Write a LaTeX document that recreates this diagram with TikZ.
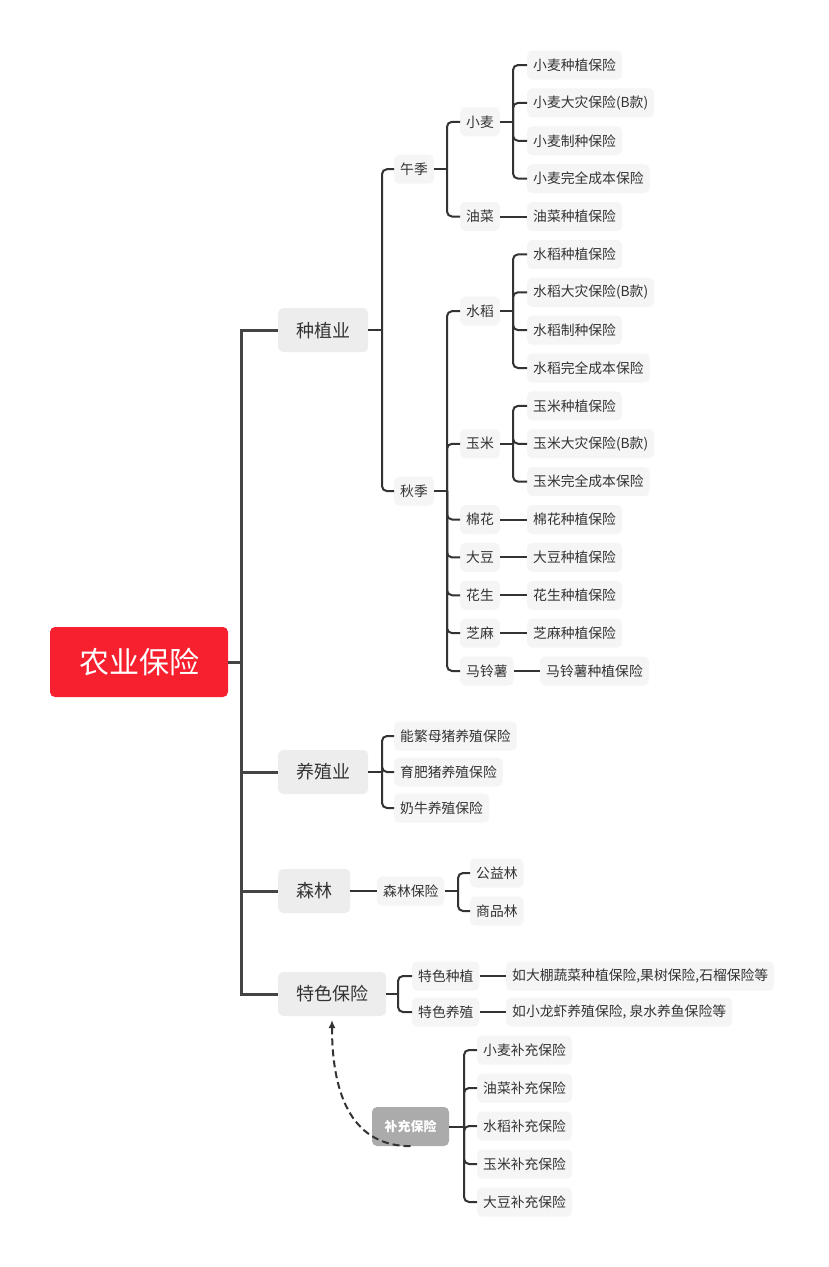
\documentclass[tikz,border=0pt]{standalone}
\usepackage{fontspec}
\setmainfont{Noto Sans CJK SC}
\usetikzlibrary{arrows.meta}
\definecolor{txt}{HTML}{333333}
\definecolor{leaffill}{HTML}{F5F5F5}
\definecolor{lonefill}{HTML}{EDEDED}
\definecolor{rootred}{HTML}{F7202F}
\definecolor{conncol}{HTML}{333333}
\definecolor{trunkcol}{HTML}{444444}
\definecolor{suppfill}{HTML}{ABABAB}
\tikzset{
  rootbox/.style={fill=rootred, text=white, rounded corners=5pt, minimum width=178pt, minimum height=70pt, inner sep=0pt, font=\fontsize{30}{33}\selectfont},
  lonebox/.style={fill=lonefill, text=txt, rounded corners=5pt, minimum height=44pt, inner xsep=18pt, inner ysep=0pt, anchor=west, font=\fontsize{18}{21}\selectfont},
  leafbox/.style={fill=leaffill, text=txt, rounded corners=5pt, minimum height=29pt, inner xsep=6pt, inner ysep=0pt, anchor=west, font=\fontsize{13.8}{16}\selectfont},
  suppbox/.style={fill=suppfill, text=white, rounded corners=5pt, minimum width=77pt, minimum height=39pt, inner sep=0pt, font=\fontsize{13}{16}\selectfont\bfseries},
  conn/.style={draw=conncol, line width=2pt, rounded corners=5pt},
  trunk/.style={draw=trunkcol, line width=3pt, line join=miter},
  dashconn/.style={draw=conncol, line width=2pt, dash pattern=on 7pt off 4pt, -{Latex[length=8pt,width=7pt]}},
}
\begin{document}
\begin{tikzpicture}[x=1pt,y=-1pt]
\useasboundingbox[fill=white] (0,0) rectangle (828,1267);

% root and level 1
\node[rootbox] (root) at (139,662) {农业保险};
\node[lonebox] (zhong) at (278,330.1) {种植业};
\node[lonebox] (yang) at (278,772) {养殖业};
\node[lonebox] (sen) at (278,891) {森林};
\node[lonebox] (tese) at (278,994) {特色保险};

% trunk
\coordinate (tk) at (241,662);
\draw[trunk] (root.east) -- (tk);
\draw[trunk] (zhong.west) -| (241,994) -- (tese.west);
\draw[trunk] (yang.west) -- (241,772);
\draw[trunk] (sen.west) -- (241,891);

% 种植业 subtree
\node[leafbox] (wu) at (394,169.2) {午季};
\node[leafbox] (qiu) at (394,491.1) {秋季};
\node[leafbox] (xm) at (460,121.8) {小麦};
\node[leafbox] (yc) at (460,216.5) {油菜};
\node[leafbox] (sd) at (460,311.2) {水稻};
\node[leafbox] (ym) at (460,443.75) {玉米};
\node[leafbox] (mh) at (460,519.5) {棉花};
\node[leafbox] (dd) at (460,557.4) {大豆};
\node[leafbox] (hs) at (460,595.25) {花生};
\node[leafbox] (zm) at (460,633.1) {芝麻};
\node[leafbox] (mls) at (460,671) {马铃薯};

\node[leafbox] (l0) at (527,65) {小麦种植保险};
\node[leafbox] (l1) at (527,102.9) {小麦大灾保险(B款)};
\node[leafbox] (l2) at (527,140.75) {小麦制种保险};
\node[leafbox] (l3) at (527,178.6) {小麦完全成本保险};
\node[leafbox] (l4) at (527,216.5) {油菜种植保险};
\node[leafbox] (l5) at (527,254.4) {水稻种植保险};
\node[leafbox] (l6) at (527,292.25) {水稻大灾保险(B款)};
\node[leafbox] (l7) at (527,330.1) {水稻制种保险};
\node[leafbox] (l8) at (527,368) {水稻完全成本保险};
\node[leafbox] (l9) at (527,405.9) {玉米种植保险};
\node[leafbox] (l10) at (527,443.75) {玉米大灾保险(B款)};
\node[leafbox] (l11) at (527,481.6) {玉米完全成本保险};
\node[leafbox] (l12) at (527,519.5) {棉花种植保险};
\node[leafbox] (l13) at (527,557.4) {大豆种植保险};
\node[leafbox] (l14) at (527,595.25) {花生种植保险};
\node[leafbox] (l15) at (527,633.1) {芝麻种植保险};
\node[leafbox] (l16) at (540,671) {马铃薯种植保险};

\coordinate (jz) at (382,330.1);
\draw[conn] (zhong.east) -- (jz);
\draw[conn] (jz) |- (wu.west);
\draw[conn] (jz) |- (qiu.west);

\coordinate (jw) at (447,169.2);
\draw[conn] (wu.east) -- (jw);
\draw[conn] (jw) |- (xm.west);
\draw[conn] (jw) |- (yc.west);

\coordinate (jx) at (513,121.8);
\draw[conn] (xm.east) -- (jx);
\foreach \n in {l0,l1,l2,l3} \draw[conn] (jx) |- (\n.west);
\draw[conn] (yc.east) -- (l4.west);

\coordinate (jq) at (447,491.1);
\draw[conn] (qiu.east) -- (jq);
\foreach \n in {sd,ym,mh,dd,hs,zm,mls} \draw[conn] (jq) |- (\n.west);

\coordinate (js) at (513,311.2);
\draw[conn] (sd.east) -- (js);
\foreach \n in {l5,l6,l7,l8} \draw[conn] (js) |- (\n.west);

\coordinate (jy) at (513,443.75);
\draw[conn] (ym.east) -- (jy);
\foreach \n in {l9,l10,l11} \draw[conn] (jy) |- (\n.west);

\draw[conn] (mh.east) -- (l12.west);
\draw[conn] (dd.east) -- (l13.west);
\draw[conn] (hs.east) -- (l14.west);
\draw[conn] (zm.east) -- (l15.west);
\draw[conn] (mls.east) -- (l16.west);

% 养殖业 subtree
\node[leafbox] (y1) at (394,736) {能繁母猪养殖保险};
\node[leafbox] (y2) at (394,772) {育肥猪养殖保险};
\node[leafbox] (y3) at (394,808) {奶牛养殖保险};
\coordinate (jyang) at (382,772);
\draw[conn] (yang.east) -- (jyang);
\foreach \n in {y1,y2,y3} \draw[conn] (jyang) |- (\n.west);

% 森林 subtree
\node[leafbox] (slbx) at (377,891) {森林保险};
\node[leafbox] (gyl) at (470,873) {公益林};
\node[leafbox] (spl) at (470,911) {商品林};
\draw[conn] (sen.east) -- (slbx.west);
\coordinate (jsen) at (458,891);
\draw[conn] (slbx.east) -- (jsen);
\foreach \n in {gyl,spl} \draw[conn] (jsen) |- (\n.west);

% 特色保险 subtree
\node[leafbox] (tszz) at (412,976) {特色种植};
\node[leafbox] (tsyz) at (412,1012) {特色养殖};
\node[leafbox] (tsl1) at (506,976) {如大棚蔬菜种植保险,果树保险,石榴保险等};
\node[leafbox] (tsl2) at (506,1012) {如小龙虾养殖保险, 泉水养鱼保险等};
\coordinate (jtese) at (398,994);
\draw[conn] (tese.east) -- (jtese);
\foreach \n in {tszz,tsyz} \draw[conn] (jtese) |- (\n.west);
\draw[conn] (tszz.east) -- (tsl1.west);
\draw[conn] (tsyz.east) -- (tsl2.west);

% 补充保险 subtree
\node[suppbox] (bc) at (410.5,1126.5) {补充保险};
\node[leafbox] (b1) at (477,1050) {小麦补充保险};
\node[leafbox] (b2) at (477,1088) {油菜补充保险};
\node[leafbox] (b3) at (477,1126) {水稻补充保险};
\node[leafbox] (b4) at (477,1164) {玉米补充保险};
\node[leafbox] (b5) at (477,1202) {大豆补充保险};
\coordinate (jbc) at (464,1126.5);
\draw[conn] (bc.east) -- (jbc);
\foreach \n in {b1,b2,b3,b4,b5} \draw[conn] (jbc) |- (\n.west);

% dashed relation
\coordinate (arrowend) at (332,1020);
\draw[dashconn] (bc.south) .. controls (355,1146) and (332,1100) .. (arrowend);
\end{tikzpicture}
\end{document}
